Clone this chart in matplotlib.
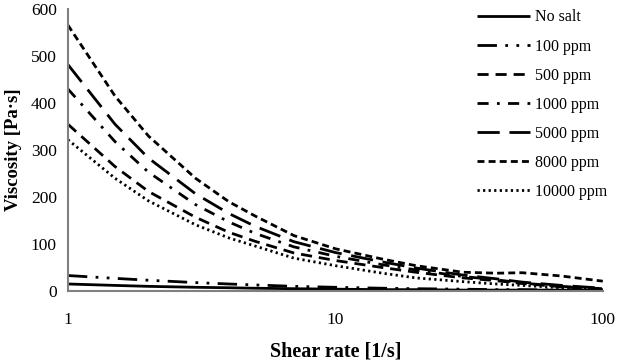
import numpy as np
import matplotlib
matplotlib.use('Agg')
import matplotlib.pyplot as plt

plt.rcParams['font.family'] = ['Liberation Serif', 'DejaVu Serif']

# 剪切速率 (1/s)
shear_rate = [1, 1.5, 2, 3, 4, 5, 7, 10, 15, 20, 30, 40, 50, 70, 100]

# 各盐浓度下的粘度 (Pa·s)
visc_no_salt = [15, 12, 10, 8, 7, 6, 5, 4, 3, 3, 2, 2, 2, 2, 1]
visc_100 = [33, 27, 23, 18, 15, 13, 10, 8, 6, 5, 4, 3, 3, 2, 2]
visc_500 = [355, 265, 212, 157, 125, 106, 81, 65, 50, 40, 28, 22, 16, 9, 4]
visc_1000 = [430, 318, 253, 184, 147, 123, 94, 74, 56, 45, 31, 24, 17, 10, 5]
visc_5000 = [482, 355, 283, 207, 165, 138, 105, 82, 62, 49, 34, 26, 19, 12, 6]
visc_8000 = [566, 415, 330, 240, 190, 160, 118, 90, 68, 54, 40, 38, 39, 32, 21]
visc_10000 = [322, 240, 192, 141, 113, 96, 70, 54, 38, 28, 20, 15, 12, 7, 3]

labels = ['No salt', '100 ppm', '500 ppm', '1000 ppm', '5000 ppm', '8000 ppm', '10000 ppm']
series = [visc_no_salt, visc_100, visc_500, visc_1000, visc_5000, visc_8000, visc_10000]
dash_styles = [
    (0, ()),
    (0, (7, 3, 1, 3, 1, 3)),
    (0, (4, 2.5)),
    (0, (4, 3, 1, 3)),
    (0, (8, 3.5)),
    (0, (2.5, 1.5)),
    (0, (0.8, 1.2)),
]

fig = plt.figure(figsize=(6.17, 3.62), dpi=100)
ax = fig.add_axes([0.110, 0.196, 0.867, 0.779])

for y, lab, ls in zip(series, labels, dash_styles):
    ax.plot(shear_rate, y, color='black', lw=2, linestyle=ls, label=lab)

ax.set_xscale('log')
ax.set_xlim(1, 100)
ax.set_ylim(0, 600)
ax.set_yticks(range(0, 601, 100))
ax.set_xticks([1, 10, 100])
ax.set_xticklabels(['1', '10', '100'])
ax.minorticks_off()
ax.tick_params(axis='both', length=0, labelsize=12.5)
ax.tick_params(axis='x', pad=15)
ax.tick_params(axis='y', pad=8)

for s in ['top', 'right']:
    ax.spines[s].set_visible(False)
for s in ['left', 'bottom']:
    ax.spines[s].set_color('#808080')
    ax.spines[s].set_linewidth(1.5)

ax.set_xlabel('Shear rate [1/s]', fontsize=14.5, fontweight='bold', labelpad=10)
ax.set_ylabel('Viscosity [Pa·s]', fontsize=13.5, fontweight='bold', labelpad=6)

fig.legend(loc='upper left', bbox_to_anchor=(0.773, 0.974), frameon=False, fontsize=11.5,
           handlelength=3.3, labelspacing=0.82, handletextpad=0.35,
           borderpad=0, borderaxespad=0)

fig.savefig('out.png', dpi=100)
